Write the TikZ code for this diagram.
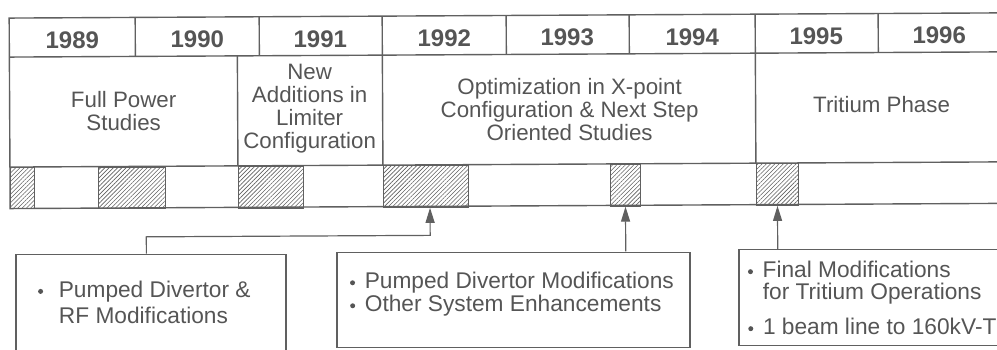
\documentclass[tikz,border=0pt]{standalone}
\usepackage{fontspec}
\setmainfont{Liberation Sans}
\usetikzlibrary{arrows.meta,patterns.meta}
\definecolor{ink}{HTML}{555555}
\definecolor{rule}{HTML}{606060}
\tikzset{
 frame/.style={draw=rule,line width=1.4pt},
 year/.style={font=\fontsize{24}{26}\selectfont\bfseries,text=ink,inner sep=0},
 phase/.style={font=\fontsize{22.3}{23}\selectfont,text=ink,align=center,inner sep=0},
 hatch/.style={draw=rule,line width=1.2pt,pattern={Lines[angle=45,distance=3pt,line width=0.6pt]},pattern color=rule,inner sep=0,anchor=north west,minimum height=41.5},
 box/.style={draw=rule,line width=1.2pt,inner sep=0,anchor=north west},
 btxt/.style={font=\fontsize{22.7}{25}\selectfont,text=ink,anchor=base west,inner sep=0},
 bul/.style={circle,fill=ink,inner sep=0,minimum size=5},
 arr/.style={draw=rule,line width=1.2pt,-{Triangle[width=9pt,length=15pt]}},
}
\begin{document}
\begin{tikzpicture}[x=1pt,y=-1pt]
\useasboundingbox (0,0) rectangle (997,349);
\clip (0,0) rectangle (997,349);
\begin{scope}[rotate around={0.3:(500,180)}]
% frame and rows
\draw[frame] (10,15.5) rectangle (1020,206);
\draw[frame] (10,54.5) -- (1020,54.5);
\draw[frame] (10,164.5) -- (1020,164.5);
\foreach \x in {136,260,383,507,630,756,879} \draw[frame] (\x,15.5) -- (\x,54.5);
\foreach \x in {238,383,756} \draw[frame] (\x,54.5) -- (\x,164.5);
% years
\node[year] (y89) at (73,38) {1989};
\node[year] (y90) at (198,38) {1990};
\node[year] (y91) at (321,38) {1991};
\node[year] (y92) at (445,38) {1992};
\node[year] (y93) at (568,38) {1993};
\node[year] (y94) at (693,38) {1994};
\node[year] (y95) at (817,38) {1995};
\node[year] (y96) at (940,38) {1996};
% phases
\node[phase] (p1) at (124,109.5) {Full Power\\Studies};
\node[phase] (p2) at (310,107.5) {New\\Additions in\\Limiter\\Configuration};
\node[phase] (p3) at (570,110) {Optimization in X-point\\Configuration \& Next Step\\Oriented Studies};
\node[phase] (p4) at (882,107) {Tritium Phase};
% hatched bars
\node[hatch,minimum width=24] (b1) at (10,164.5) {};
\node[hatch,minimum width=67] (b2) at (98,164.5) {};
\node[hatch,minimum width=65] (b3) at (238,164.5) {};
\node[hatch,minimum width=85] (b4) at (383,164.5) {};
\node[hatch,minimum width=30] (b5) at (610,164.5) {};
\node[hatch,minimum width=42] (b6) at (756,164.5) {};
% boxes
\node[box,minimum width=270,minimum height=150] (box1) at (15,251) {};
\node[box,minimum width=353,minimum height=95] (box2) at (336,251) {};
\node[box,minimum width=320,minimum height=96] (box3) at (738,250) {};
% box texts
\node[bul] (d1) at (40,289) {};
\node[btxt] (t1a) at (58,295) {Pumped Divertor \&};
\node[btxt] (t1b) at (58,321) {RF Modifications};
\node[bul] (d2) at (352,282) {};
\node[btxt] (t2a) at (364,288) {Pumped Divertor Modifications};
\node[bul] (d3) at (352,305) {};
\node[btxt] (t2b) at (364,311) {Other System Enhancements};
\node[bul] (d4) at (750,273) {};
\node[btxt] (t3a) at (762,279) {Final Modifications};
\node[btxt] (t3b) at (762,301) {for Tritium Operations};
\node[bul] (d5) at (750,330) {};
\node[btxt] (t3c) at (762,336) {1 beam line to 160kV-T};
% arrows
\coordinate (j1) at (146,235);
\draw[arr] (box1.north -| j1) -- (j1) -| ([xshift=4pt]b4.south);
\draw[arr] (box2.north -| b5.south) -- (b5.south);
\draw[arr] (box3.north -| b6.south) -- (b6.south);
\end{scope}
\end{tikzpicture}
\end{document}
